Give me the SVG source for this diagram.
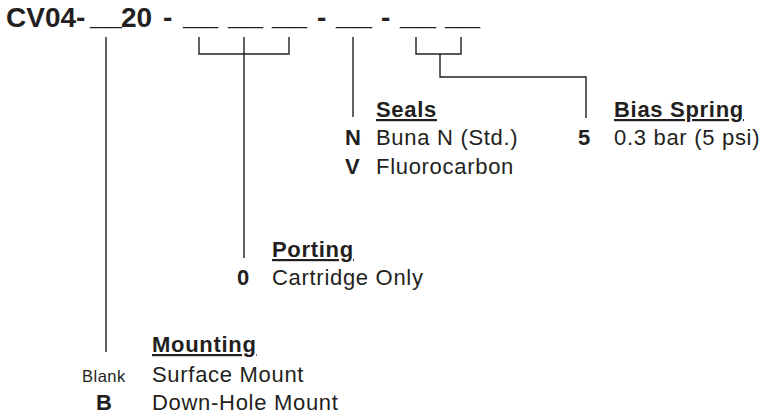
<svg xmlns="http://www.w3.org/2000/svg" width="764" height="416" viewBox="0 0 764 416">
<style>
text{font-family:"Liberation Sans",Arial,sans-serif;fill:#231f20}
.t{font-size:28px;font-weight:bold}
.h{font-size:22px;font-weight:bold;letter-spacing:0.7px;text-decoration:underline}
.b{font-size:22px;letter-spacing:0.7px}
.k{font-size:22px;font-weight:bold}
.s{font-size:16.5px;letter-spacing:0.5px}
.c{fill:none;stroke:#231f20;stroke-width:1.4}
</style>
<rect width="764" height="416" fill="#fff"/>
<g id="title">
<text class="t" x="6" y="27">CV04-</text>
<text class="t" x="90" y="25" textLength="32" lengthAdjust="spacingAndGlyphs">__</text>
<text class="t" x="121" y="27">20</text>
<text class="t" x="163" y="27">-</text>
<text class="t" x="183" y="25" textLength="35" lengthAdjust="spacingAndGlyphs">__</text>
<text class="t" x="228" y="25" textLength="35" lengthAdjust="spacingAndGlyphs">__</text>
<text class="t" x="272" y="25" textLength="35" lengthAdjust="spacingAndGlyphs">__</text>
<text class="t" x="317" y="27">-</text>
<text class="t" x="336" y="25" textLength="36" lengthAdjust="spacingAndGlyphs">__</text>
<text class="t" x="381" y="27">-</text>
<text class="t" x="400" y="25" textLength="36" lengthAdjust="spacingAndGlyphs">__</text>
<text class="t" x="445" y="25" textLength="35" lengthAdjust="spacingAndGlyphs">__</text>
</g>
<g id="connectors">
<path class="c" d="M106,37V352"/>
<path class="c" d="M199,37V54H289V37M244,37V258"/>
<path class="c" d="M353,37V117"/>
<path class="c" d="M416,37V54H461V37M440,54V77H586V118"/>
</g>
<g id="seals">
<text class="h" x="376" y="117">Seals</text>
<text class="k" x="345" y="145">N</text>
<text class="b" x="376" y="145">Buna N (Std.)</text>
<text class="k" x="345" y="174">V</text>
<text class="b" x="376" y="174">Fluorocarbon</text>
</g>
<g id="bias-spring">
<text class="h" x="614" y="117">Bias Spring</text>
<text class="k" x="578" y="145">5</text>
<text class="b" x="614" y="145">0.3 bar (5 psi)</text>
</g>
<g id="porting">
<text class="h" x="272" y="257">Porting</text>
<text class="k" x="237" y="285">0</text>
<text class="b" x="272" y="285">Cartridge Only</text>
</g>
<g id="mounting">
<text class="h" x="152" y="352">Mounting</text>
<text class="s" x="82" y="382">Blank</text>
<text class="b" x="152" y="382">Surface Mount</text>
<text class="k" x="96" y="410">B</text>
<text class="b" x="152" y="410">Down-Hole Mount</text>
</g>
</svg>
